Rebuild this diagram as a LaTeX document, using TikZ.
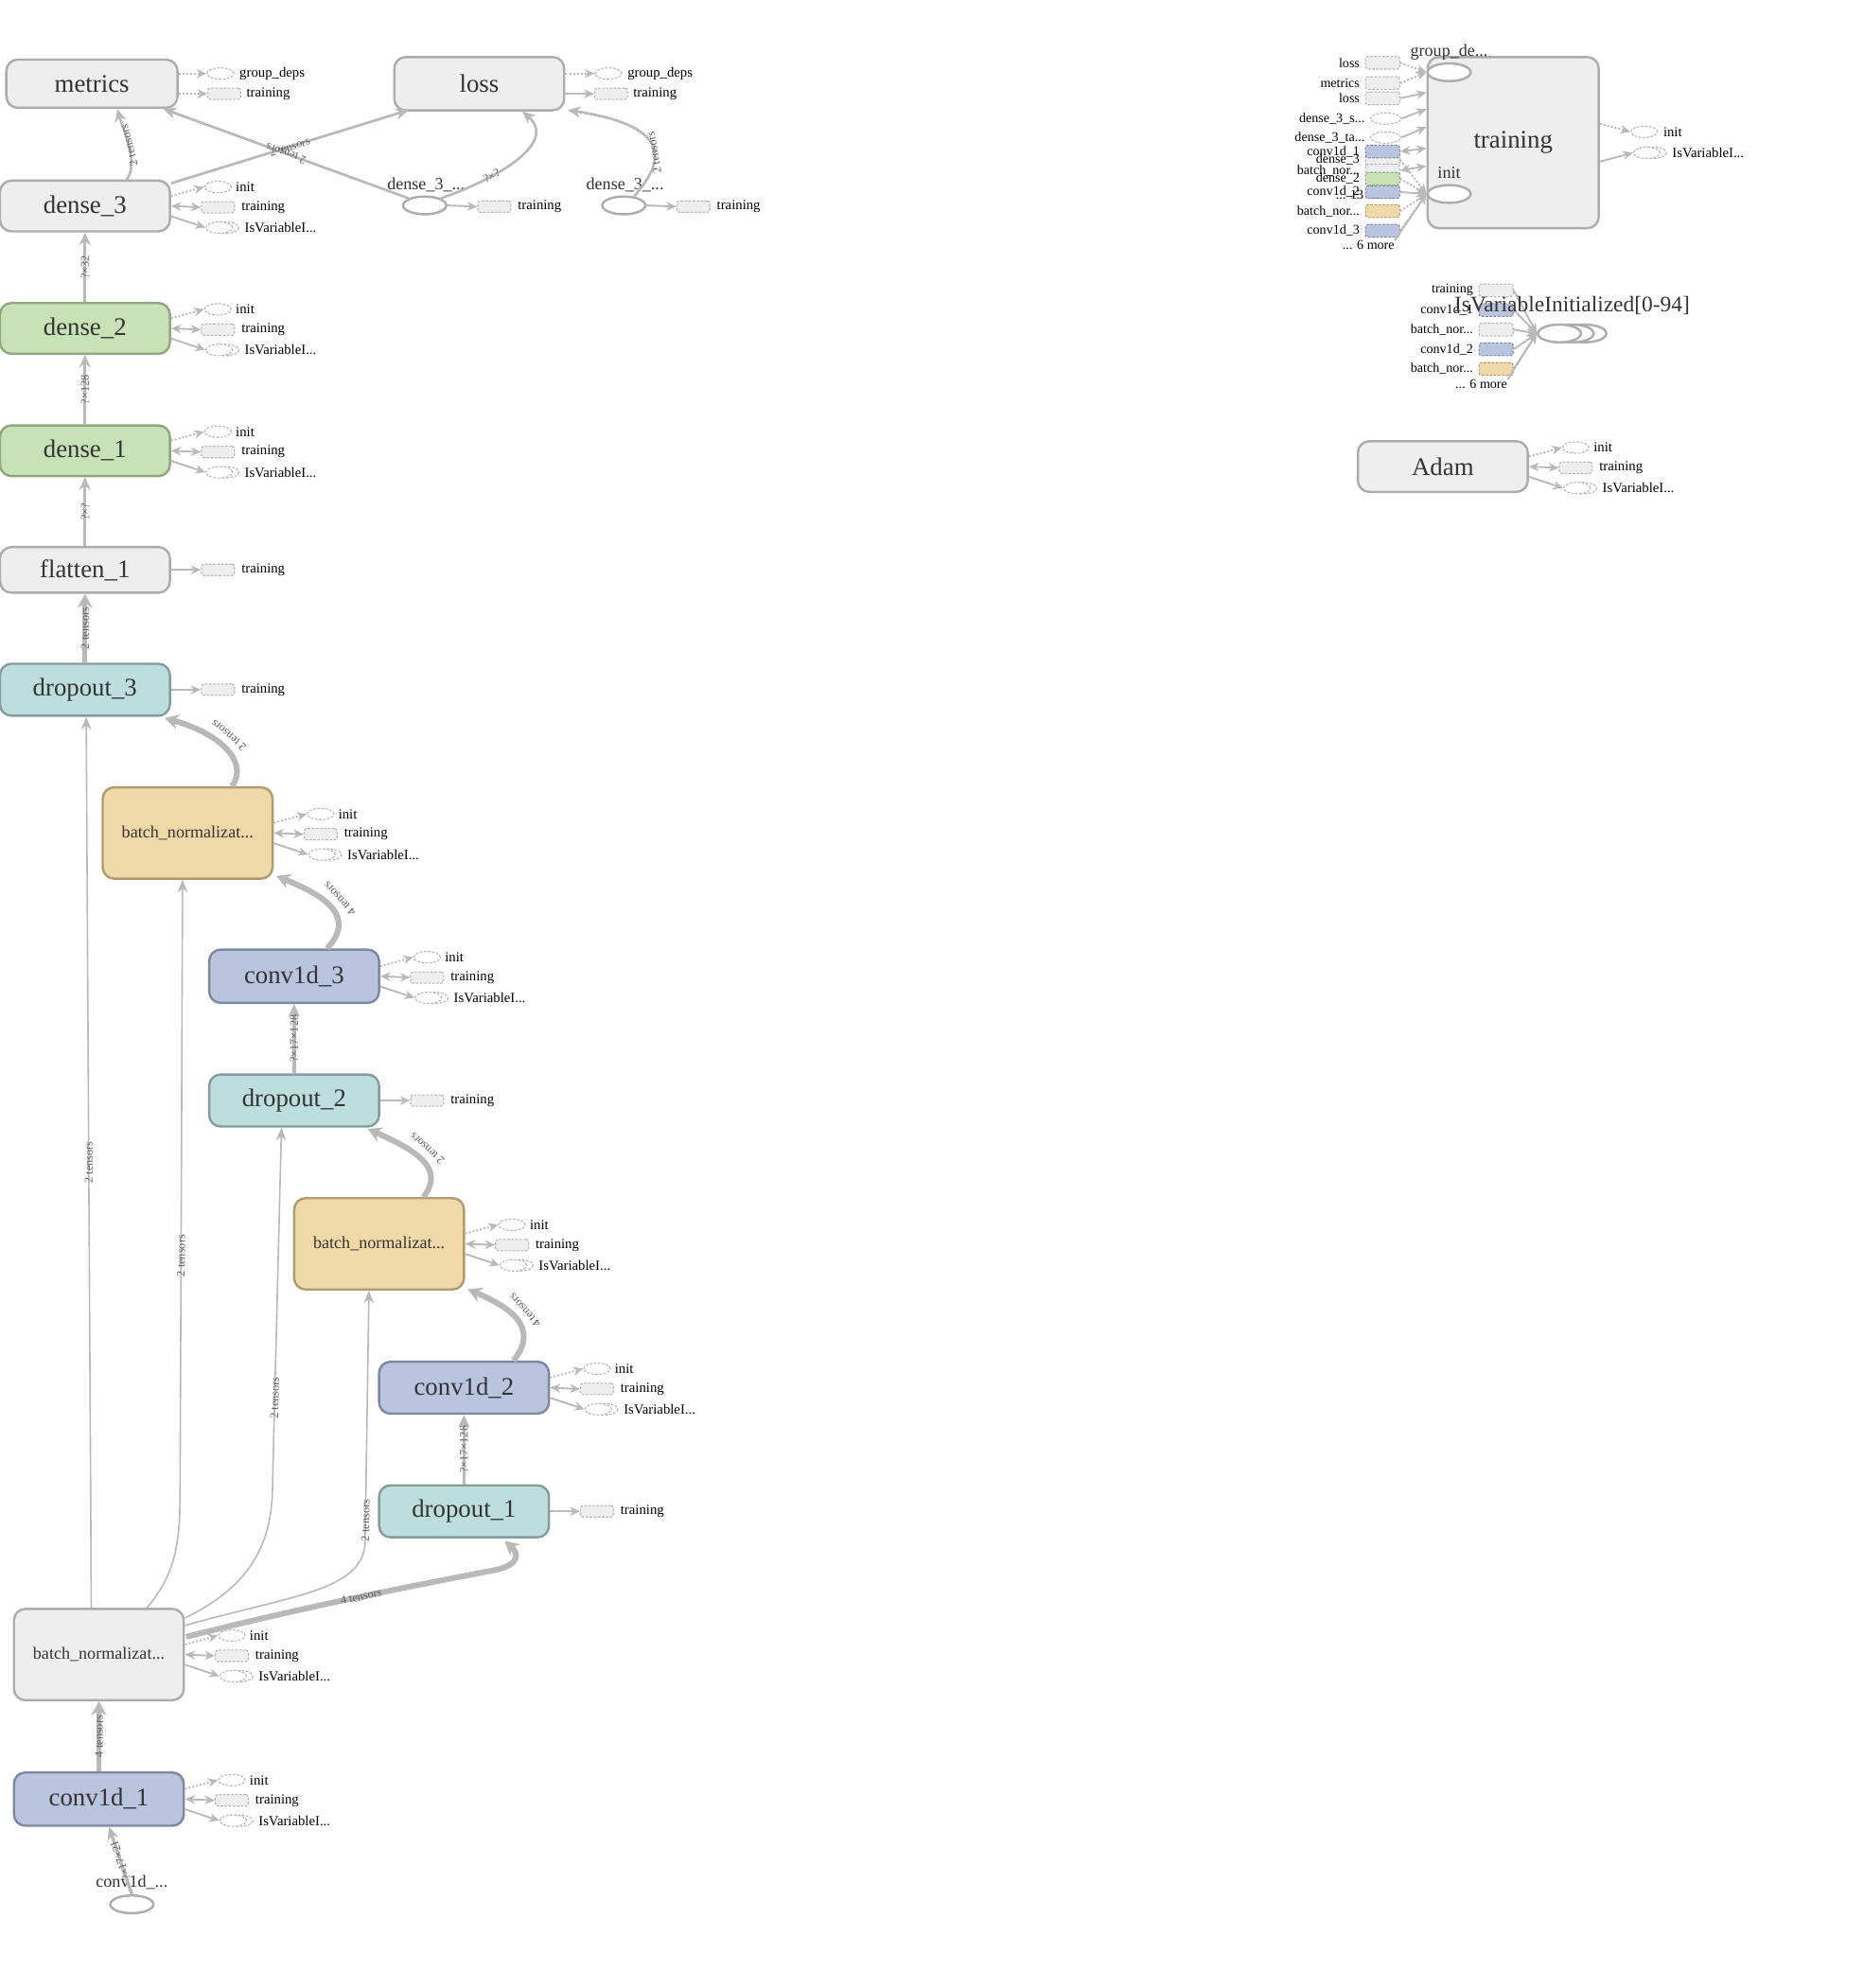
\documentclass[tikz,border=0pt]{standalone}
\usepackage{fontspec}
\setmainfont{Liberation Serif}
\usetikzlibrary{arrows.meta,shapes.geometric,calc}
\definecolor{edgec}{RGB}{185,185,185}
\definecolor{txt}{RGB}{51,51,51}
\definecolor{gfill}{RGB}{238,238,238}
\definecolor{gdraw}{RGB}{172,172,172}
\definecolor{grnfill}{RGB}{199,226,182}
\definecolor{grndraw}{RGB}{144,166,128}
\definecolor{tealfill}{RGB}{190,221,221}
\definecolor{tealdraw}{RGB}{132,156,156}
\definecolor{yelfill}{RGB}{240,217,168}
\definecolor{yeldraw}{RGB}{176,155,113}
\definecolor{bluefill}{RGB}{185,196,222}
\definecolor{bluedraw}{RGB}{125,135,158}
\definecolor{auxd}{RGB}{180,180,180}
\definecolor{elbl}{RGB}{95,95,95}
\tikzset{
 op/.style={rectangle, rounded corners=9pt, line width=1.8pt, minimum width=134pt, minimum height=40pt, inner sep=0pt, text=txt, font=\fontsize{20}{22}\selectfont},
 grayop/.style={op, draw=gdraw, fill=gfill},
 greenop/.style={op, draw=grndraw, fill=grnfill},
 tealop/.style={op, draw=tealdraw, fill=tealfill},
 yelop/.style={op, draw=yeldraw, fill=yelfill},
 blueop/.style={op, draw=bluedraw, fill=bluefill},
 bnop/.style={minimum height=72pt, font=\fontsize{13.5}{15}\selectfont},
 phell/.style={ellipse, draw=gdraw, line width=1.8pt, fill=white, minimum width=34pt, minimum height=14pt, inner sep=0pt},
 phlbl/.style={inner sep=0pt, text=txt, font=\fontsize{13.5}{15}\selectfont},
 auxrect/.style={rectangle, rounded corners=2pt, draw=auxd, fill=gfill, dash pattern=on 2pt off 1.2pt, line width=0.8pt, minimum width=26pt, minimum height=9pt, inner sep=0pt},
 inrect/.style={auxrect, minimum width=27pt, minimum height=10pt},
 auxell/.style={ellipse, draw=auxd, fill=white, dash pattern=on 2pt off 1.2pt, line width=0.8pt, minimum width=21pt, minimum height=9pt, inner sep=0pt},
 auxlbl/.style={anchor=west, inner sep=0pt, text=black, font=\fontsize{11}{12}\selectfont},
 inlbl/.style={anchor=east, inner sep=0pt, text=black, font=\fontsize{10.5}{12}\selectfont},
 auxarr/.style={draw=edgec, line width=1.4pt, -{Stealth[length=8pt,width=7pt]}},
 auxdot/.style={auxarr, dash pattern=on 1.5pt off 1.5pt},
 auxboth/.style={auxarr, {Stealth[length=8pt,width=7pt]}-{Stealth[length=8pt,width=7pt]}},
 emid/.style={draw=edgec, line width=2pt, -{Stealth[length=10pt,width=9pt]}},
 ethin/.style={draw=edgec, line width=1.2pt, -{Stealth[length=10pt,width=8pt]}},
 ethick/.style={draw=edgec, line width=4.5pt, -{Stealth[length=11pt,width=12pt]}},
 elabel/.style={sloped, allow upside down, inner sep=1pt, text=elbl, font=\fontsize{9.2}{10}\selectfont},
}
\newcommand\auxI[1]{%
  \node[auxell] (#1-i) at ($(#1.east)+(37,-15)$) {};
  \node[auxlbl] (#1-il) at ($(#1-i.east)+(3,0)$) {init};
  \node[auxrect] (#1-t) at ($(#1.east)+(37,1)$) {};
  \node[auxlbl] (#1-tl) at ($(#1-t.east)+(5,0)$) {training};
  \draw[draw=auxd, dash pattern=on 2pt off 1.2pt, line width=0.8pt] ($(#1.east)+(43,17)$) ellipse (10.5 and 4.5);
  \node[auxell] (#1-v) at ($(#1.east)+(38,17)$) {};
  \node[auxlbl] (#1-vl) at ($(#1-v.east)+(9,0)$) {IsVariableI...};
  \draw[auxdot] ($(#1.east)+(0,-8)$) -- (#1-i.west);
  \draw[auxboth] (#1.east) -- (#1-t.west);
  \draw[auxarr] ($(#1.east)+(0,8)$) -- (#1-v.west);
}
\newcommand\auxT[1]{%
  \node[auxrect] (#1-t) at ($(#1.east)+(37,0)$) {};
  \node[auxlbl] (#1-tl) at ($(#1-t.east)+(5,0)$) {training};
  \draw[auxarr] (#1.east) -- (#1-t.west);
}
\begin{document}
\begin{tikzpicture}[x=1pt,y=-1pt]
\useasboundingbox[fill=white] (0,0) rectangle (1470,1568);

% ---------- top row ----------
\node[grayop, minimum height=38pt, minimum width=135pt] (metrics) at (72.5,66) {metrics};
\node[grayop, minimum height=42pt] (loss) at (378,66) {loss};
\node[auxell] (metrics-g) at ($(metrics.east)+(33,-8)$) {};
\node[auxlbl] (metrics-gl) at ($(metrics-g.east)+(4,0)$) {group\_deps};
\node[auxrect] (metrics-t) at ($(metrics.east)+(36,8)$) {};
\node[auxlbl] (metrics-tl) at ($(metrics-t.east)+(4,0)$) {training};
\draw[auxdot] ($(metrics.east)+(0,-8)$) -- (metrics-g.west);
\draw[auxdot] ($(metrics.east)+(0,8)$) -- (metrics-t.west);
\node[auxell] (loss-g) at ($(loss.east)+(34,-8)$) {};
\node[auxlbl] (loss-gl) at ($(loss-g.east)+(4,0)$) {group\_deps};
\node[auxrect] (loss-t) at ($(loss.east)+(36,8)$) {};
\node[auxlbl] (loss-tl) at ($(loss-t.east)+(4,0)$) {training};
\draw[auxdot] ($(loss.east)+(0,-8)$) -- (loss-g.west);
\draw[auxarr] ($(loss.east)+(0,8)$) -- (loss-t.west);

\node[grayop] (dense3) at (67,162.5) {dense\_3};
\auxI{dense3}

\node[phell] (d3a) at (335,162) {};
\node[phlbl] (d3al) at (336,146) {dense\_3\_...};
\node[auxrect] (d3a-t) at ($(d3a.east)+(37,1)$) {};
\node[auxlbl] (d3a-tl) at ($(d3a-t.east)+(5,0)$) {training};
\draw[auxarr] (d3a.east) -- (d3a-t.west);
\node[phell] (d3b) at (492,162) {};
\node[phlbl] (d3bl) at (493,146) {dense\_3\_...};
\node[auxrect] (d3b-t) at ($(d3b.east)+(37,1)$) {};
\node[auxlbl] (d3b-tl) at ($(d3b-t.east)+(5,0)$) {training};
\draw[auxarr] (d3b.east) -- (d3b-t.west);

\draw[emid] ($(dense3.north)+(33,0)$) .. controls (110,128) and (97,102) .. ($(metrics.south)+(20,0)$) node[elabel, pos=.5] (lab1) {2 tensors};
\draw[emid] ($(dense3.north east)+(0,3)$) -- node[elabel] (lab2) {2 tensors} ($(loss.south west)+(12,-1)$);
\draw[emid] (d3a.north west) -- node[elabel] (lab3) {2 tensors} ($(metrics.south east)+(-12,0)$);
\draw[emid] (d3a.north east) .. controls (395,140) and (440,112) .. ($(loss.south)+(34,0)$) node[elabel, pos=.3] (lab4) {?×?};
\draw[emid] ($(d3b.north)+(8,1)$) .. controls (522,130) and (535,100) .. ($(loss.south east)+(2,-1)$) node[elabel, pos=.45] (lab5) {2 tensors};

% ---------- left column ----------
\node[greenop] (dense2) at (67,259) {dense\_2};
\auxI{dense2}
\node[greenop] (dense1) at (67,355.5) {dense\_1};
\auxI{dense1}
\node[grayop, minimum height=36pt] (flatten1) at (67,449.5) {flatten\_1};
\auxT{flatten1}
\node[tealop, minimum height=41pt] (dropout3) at (67,544) {dropout\_3};
\auxT{dropout3}
\node[yelop, bnop] (bntop) at (148,657) {batch\_normalizat...};
\auxI{bntop}
\node[blueop, minimum height=42pt] (conv3) at (232,770) {conv1d\_3};
\auxI{conv3}
\node[tealop, minimum height=41pt] (dropout2) at (232,868) {dropout\_2};
\auxT{dropout2}
\node[yelop, bnop] (bnmid) at (299,981) {batch\_normalizat...};
\auxI{bnmid}
\node[blueop, minimum height=41pt] (conv2) at (366,1094.5) {conv1d\_2};
\auxI{conv2}
\node[tealop, minimum height=41pt] (dropout1) at (366,1192) {dropout\_1};
\auxT{dropout1}
\node[grayop, bnop] (bnlow) at (78,1305) {batch\_normalizat...};
\auxI{bnlow}
\node[blueop, minimum height=42pt] (conv1) at (78,1419) {conv1d\_1};
\auxI{conv1}
\node[phell] (convin) at (104,1502) {};
\node[phlbl] (convinl) at (104,1485) {conv1d\_...};

\draw[emid] (dense2.north) -- node[elabel] (lab6) {?×32} (dense3.south);
\draw[emid] (dense1.north) -- node[elabel] (lab7) {?×128} (dense2.south);
\draw[emid] (flatten1.north) -- node[elabel] (lab8) {?×?} (dense1.south);
\draw[ethick, line width=3.5pt] (dropout3.north) -- node[elabel] (lab9) {2 tensors} (flatten1.south);
\draw[ethick] ($(bntop.north)+(35,0)$) .. controls (197,600) and (172,578) .. ($(dropout3.south east)+(-5,1)$) node[elabel, pos=.55, below=3pt] (lab10) {2 tensors};
\draw[ethick] ($(conv3.north)+(26,0)$) .. controls (282,722) and (255,706) .. ($(bntop.south east)+(2,-3)$) node[elabel, pos=.5, below=3pt] (lab11) {4 tensors};
\draw[emid, line width=2.6pt] (dropout2.north) -- node[elabel] (lab12) {?×17×128} (conv3.south);
\draw[ethick] ($(bnmid.north)+(35,0)$) .. controls (351,922) and (330,908) .. ($(dropout2.south east)+(-10,1)$) node[elabel, pos=.55, below=3pt] (lab13) {2 tensors};
\draw[ethick] ($(conv2.north)+(39,0)$) .. controls (427,1046) and (400,1030) .. ($(bnmid.south east)+(2,-1)$) node[elabel, pos=.5, below=3pt] (lab14) {4 tensors};
\draw[emid, line width=2.6pt] (dropout1.north) -- node[elabel] (lab15) {?×17×128} (conv2.south);
\draw[ethick] ($(bnlow.east)+(1,-14)$) .. controls (250,1265) and (330,1250) .. (392,1238) node[elabel, pos=.5] (lab16) {4 tensors} .. controls (412,1233) and (408,1224) .. ($(dropout1.south)+(32,2)$);
\draw[ethin] ($(bnlow.north east)+(0,14)$) .. controls (230,1258) and (288,1255) .. (288,1215) -- node[elabel, pos=.08] (lab17) {2 tensors} ($(bnmid.south)+(-8,0)$);
\draw[ethin] ($(bnlow.north east)+(0,8)$) .. controls (200,1250) and (215,1215) .. (215,1170) -- node[elabel, pos=.24] (lab18) {2 tensors} ($(dropout2.south)+(-10,0)$);
\draw[ethin] ($(bnlow.north)+(38,0)$) .. controls (135,1245) and (142,1225) .. (142,1180) -- node[elabel, pos=.39] (lab19) {2 tensors} ($(bntop.south)+(-4,0)$);
\draw[ethin] ($(bnlow.north)+(-6,0)$) -- node[elabel, pos=.5] (lab20) {2 tensors} ($(dropout3.south)+(1,0)$);
\draw[ethick, line width=3.5pt] (conv1.north) -- node[elabel] (lab21) {4 tensors} (bnlow.south);
\draw[emid, line width=2.6pt] (convin.north) -- node[elabel] (lab22) {?×17×21} ($(conv1.south)+(8,0)$);

% ---------- training group ----------
\node[grayop, minimum width=135pt, minimum height=135pt] (trainbox) at (1193.5,112.5) {training};
\node[phell] (trgd) at (1143,57) {};
\node[phlbl] (trgdl) at (1143,41) {group\_de...};
\node[phell] (trin) at (1143,153) {};
\node[phlbl] (trinl) at (1143,136) {init};

\node[inlbl] (tmore13) at (1100,153.5) {... 13 more};
\node[inrect] (ti1) at (1090.5,49.5) {};
\node[inlbl] (ti1l) at ($(ti1.west)+(-4,0)$) {loss};
\node[inrect] (ti2) at (1090.5,65.5) {};
\node[inlbl] (ti2l) at ($(ti2.west)+(-4,0)$) {metrics};
\node[inrect] (ti3) at (1090.5,77.5) {};
\node[inlbl] (ti3l) at ($(ti3.west)+(-4,0)$) {loss};
\node[auxell, minimum width=24pt] (ti4) at (1093,93.5) {};
\node[inlbl] (ti4l) at ($(ti4.west)+(-4,0)$) {dense\_3\_s...};
\node[auxell, minimum width=24pt] (ti5) at (1093,108.5) {};
\node[inlbl] (ti5l) at ($(ti5.west)+(-4,0)$) {dense\_3\_ta...};
\node[inrect] (ti7) at (1090.5,126) {};
\node[inlbl] (ti7l) at ($(ti7.west)+(-4,0)$) {dense\_3};
\node[inrect, fill=bluefill, draw=bluedraw] (ti6) at (1090.5,119.5) {};
\node[inlbl] (ti6l) at ($(ti6.west)+(-4,0)$) {conv1d\_1};
\node[inrect] (ti8) at (1090.5,134.5) {};
\node[inlbl] (ti8l) at ($(ti8.west)+(-4,0)$) {batch\_nor...};
\node[inrect, fill=grnfill, draw=grndraw] (ti9) at (1090.5,141) {};
\node[inlbl] (ti9l) at ($(ti9.west)+(-4,0)$) {dense\_2};
\node[inrect, fill=bluefill, draw=bluedraw] (ti10) at (1090.5,151.5) {};
\node[inlbl] (ti10l) at ($(ti10.west)+(-4,0)$) {conv1d\_2};
\node[inrect, fill=yelfill, draw=yeldraw] (ti11) at (1090.5,166.5) {};
\node[inlbl] (ti11l) at ($(ti11.west)+(-4,0)$) {batch\_nor...};
\node[inrect, fill=bluefill, draw=bluedraw] (ti12) at (1090.5,182) {};
\node[inlbl] (ti12l) at ($(ti12.west)+(-4,0)$) {conv1d\_3};
\node[inlbl] (tmore6) at (1100,193.5) {... 6 more};

\draw[auxdot] (ti1.east) -- (trgd.west);
\draw[auxdot] (ti2.east) -- (trgd.west);
\draw[auxarr] (ti3.east) -- ($(trainbox.west)+(0,-39.5)$);
\draw[auxarr] (ti4.east) -- ($(trainbox.west)+(0,-26.5)$);
\draw[auxarr] (ti5.east) -- ($(trainbox.west)+(0,-12.5)$);
\draw[auxboth] (ti6.east) -- ($(trainbox.west)+(0,4.5)$);
\draw[auxdot] (ti7.east) -- (trin.west);
\draw[auxboth] (ti8.east) -- ($(trainbox.west)+(0,18.5)$);
\draw[auxdot] (ti9.east) -- (trin.west);
\draw[auxarr] (ti10.east) -- (trin.west);
\draw[auxdot] (ti11.east) -- (trin.west);
\draw[auxdot] (ti12.east) -- (trin.west);
\draw[auxarr] (tmore6.north east) -- (trin.west);

\node[auxell] (tro1) at ($(trainbox.east)+(35,-8.5)$) {};
\node[auxlbl] (tro1l) at ($(tro1.east)+(4,0)$) {init};
\draw[draw=auxd, dash pattern=on 2pt off 1.2pt, line width=0.8pt] ($(trainbox.east)+(42,8)$) ellipse (10.5 and 4.5);
\node[auxell] (tro2) at ($(trainbox.east)+(37,8)$) {};
\node[auxlbl] (tro2l) at ($(tro2.east)+(9,0)$) {IsVariableI...};
\draw[auxdot] ($(trainbox.east)+(0,-15)$) -- (tro1.west);
\draw[auxarr] ($(trainbox.east)+(0,15)$) -- (tro2.west);

% ---------- IsVariableInitialized ----------
\node[inrect] (ii1) at (1180,229) {};
\node[inlbl] (ii1l) at ($(ii1.west)+(-4,0)$) {training};
\node[inrect, fill=bluefill, draw=bluedraw] (ii2) at (1180,244.5) {};
\node[inlbl] (ii2l) at ($(ii2.west)+(-4,0)$) {conv1d\_1};
\node[inrect] (ii3) at (1180,260) {};
\node[inlbl] (ii3l) at ($(ii3.west)+(-4,0)$) {batch\_nor...};
\node[inrect, fill=bluefill, draw=bluedraw] (ii4) at (1180,275.5) {};
\node[inlbl] (ii4l) at ($(ii4.west)+(-4,0)$) {conv1d\_2};
\node[inrect, fill=yelfill, draw=yeldraw] (ii5) at (1180,291) {};
\node[inlbl] (ii5l) at ($(ii5.west)+(-4,0)$) {batch\_nor...};
\node[inlbl] (iimore) at (1189,303) {... 6 more};
\node[phell] (iv3) at (1250,263) {};
\node[phell] (iv2) at (1240,263) {};
\node[phell] (iv1) at (1230,263) {};
\draw[auxarr] (ii1.east) -- (iv1.west);
\draw[auxarr] (ii2.east) -- (iv1.west);
\draw[auxarr] (ii3.east) -- (iv1.west);
\draw[auxarr] (ii4.east) -- (iv1.west);
\draw[auxarr] (ii5.east) -- (iv1.west);
\draw[auxarr] (iimore.north east) -- (iv1.west);
\node[inner sep=0pt, text=txt, font=\fontsize{17.5}{19}\selectfont] (ivl) at (1240,241) {IsVariableInitialized[0-94]};

% ---------- Adam ----------
\node[grayop] (adam) at (1138,368) {Adam};
\auxI{adam}
\end{tikzpicture}
\end{document}
